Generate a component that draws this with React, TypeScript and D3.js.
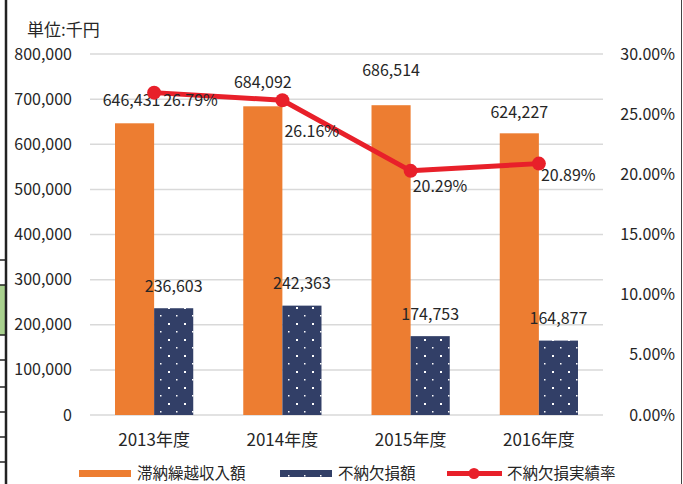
import * as d3 from "d3"
import { useEffect, useRef } from "react"

const years = ["2013年度", "2014年度", "2015年度", "2016年度"]
const arrears = [646431, 684092, 686514, 624227]
const losses = [236603, 242363, 174753, 164877]
const lossRate = [0.2679, 0.2616, 0.2029, 0.2089]
const leftTicks = [0, 100000, 200000, 300000, 400000, 500000, 600000, 700000, 800000]
const rightTicks = [0, 0.05, 0.1, 0.15, 0.2, 0.25, 0.3]
const seriesNames = ["滞納繰越収入額", "不納欠損額", "不納欠損実績率"]

// label nudges as in the source sheet
const arrearsLabelDx = [-3, 0, 0, 0]
const arrearsLabelDy = [-23, -24, -35, -21]
const rateLabelDx = [9, 2, 2, 2]
const rateLabelDy = [8, 31, 16, 12]

const ORANGE = "#ED7D31"
const NAVY = "#323F67"
const RED = "#E8202A"
const FONT = "'Noto Sans CJK JP', 'Noto Sans', sans-serif"

const App = () => {
  const ref = useRef<SVGSVGElement>(null)

  useEffect(() => {
    document.body.style.margin = "0"
    const width = 683
    const height = 484
    const svg = d3.select(ref.current)
    svg.selectAll("*").remove()
    svg.attr("width", width).attr("height", height)

    svg.append("rect").attr("width", width).attr("height", height).attr("fill", "#fff")

    // spreadsheet remnants around the chart
    const edge = svg.append("g")
    edge.append("rect").attr("x", 0).attr("y", 285).attr("width", 5).attr("height", 50).attr("fill", "#A9D18E")
    ;[260, 285, 335, 360, 387, 412, 437, 462].forEach((yy) =>
      edge.append("line").attr("x1", 0).attr("x2", 5).attr("y1", yy).attr("y2", yy).attr("stroke", "#222").attr("stroke-width", 1.5)
    )
    edge.append("line").attr("x1", 6).attr("x2", 6).attr("y1", 0).attr("y2", height).attr("stroke", "#222").attr("stroke-width", 2.5)
    edge.append("line").attr("x1", 681.5).attr("x2", 681.5).attr("y1", 0).attr("y2", height).attr("stroke", "#444").attr("stroke-width", 1)

    const defs = svg.append("defs")
    const pat = defs
      .append("pattern")
      .attr("id", "dots")
      .attr("patternUnits", "userSpaceOnUse")
      .attr("width", 16)
      .attr("height", 16)
    pat.append("rect").attr("width", 16).attr("height", 16).attr("fill", NAVY)
    pat.append("rect").attr("x", 8).attr("y", 3).attr("width", 2).attr("height", 2).attr("fill", "#fff")
    pat.append("rect").attr("x", 0).attr("y", 11).attr("width", 1.5).attr("height", 1.5).attr("fill", "#fff")

    const x = d3.scaleBand().domain(years).range([90, 603]).padding(0)
    const y = d3.scaleLinear().domain([0, 800000]).range([415, 54])
    const yr = d3.scaleLinear().domain([0, 0.3]).range([415, 54])
    const groupW = x.bandwidth() * 0.61
    const inner = d3.scaleBand().domain(["a", "b"]).range([0, groupW]).padding(0)
    const cx = (d: string) => (x(d) as number) + x.bandwidth() / 2

    // grid
    svg
      .append("g")
      .selectAll("line")
      .data(leftTicks)
      .join("line")
      .attr("x1", 90)
      .attr("x2", 603)
      .attr("y1", (d) => y(d))
      .attr("y2", (d) => y(d))
      .attr("stroke", "#D9D9D9")
      .attr("stroke-width", 1.5)

    const txt = (g: any) => g.attr("font-family", FONT).attr("fill", "#262626")

    // left axis
    svg
      .append("g")
      .call(txt)
      .selectAll("text")
      .data(leftTicks)
      .join("text")
      .attr("x", 72)
      .attr("y", (d) => y(d))
      .attr("dy", "0.35em")
      .attr("text-anchor", "end")
      .attr("font-size", 16)
      .text((d) => d3.format(",")(d))

    // right axis
    svg
      .append("g")
      .call(txt)
      .selectAll("text")
      .data(rightTicks)
      .join("text")
      .attr("x", 675)
      .attr("y", (d) => yr(d))
      .attr("dy", "0.35em")
      .attr("text-anchor", "end")
      .attr("font-size", 16)
      .text((d) => d3.format(".2%")(d))

    svg.append("text").call(txt).attr("x", 27).attr("y", 30).attr("dy", "0.35em").attr("font-size", 17).text("単位:千円")

    // categories
    svg
      .append("g")
      .call(txt)
      .selectAll("text")
      .data(years)
      .join("text")
      .attr("x", cx)
      .attr("y", 440)
      .attr("dy", "0.35em")
      .attr("text-anchor", "middle")
      .attr("font-size", 17)
      .text((d) => d)

    // bars
    const g0 = (d: string) => cx(d) - groupW / 2
    svg
      .append("g")
      .selectAll("rect")
      .data(years)
      .join("rect")
      .attr("x", (d) => g0(d) + (inner("a") as number))
      .attr("y", (d, i) => y(arrears[i]))
      .attr("width", inner.bandwidth())
      .attr("height", (d, i) => y(0) - y(arrears[i]))
      .attr("fill", ORANGE)
    svg
      .append("g")
      .selectAll("rect")
      .data(years)
      .join("rect")
      .attr("x", (d) => g0(d) + (inner("b") as number))
      .attr("y", (d, i) => y(losses[i]))
      .attr("width", inner.bandwidth())
      .attr("height", (d, i) => y(0) - y(losses[i]))
      .attr("fill", "url(#dots)")

    // bar labels sit under the line
    const labels = svg.append("g").call(txt).attr("font-size", 16)
    labels
      .selectAll("text.a")
      .data(arrears)
      .join("text")
      .attr("class", "a")
      .attr("x", (d, i) => g0(years[i]) + (inner("a") as number) + inner.bandwidth() / 2 + arrearsLabelDx[i])
      .attr("y", (d, i) => y(d) + arrearsLabelDy[i])
      .attr("dy", "0.35em")
      .attr("text-anchor", "middle")
      .text((d) => d3.format(",")(d))
    labels
      .selectAll("text.b")
      .data(losses)
      .join("text")
      .attr("class", "b")
      .attr("x", (d, i) => g0(years[i]) + (inner("b") as number) + inner.bandwidth() / 2)
      .attr("y", (d) => y(d) - 22)
      .attr("dy", "0.35em")
      .attr("text-anchor", "middle")
      .text((d) => d3.format(",")(d))

    // line
    const line = d3
      .line<number>()
      .x((d, i) => cx(years[i]))
      .y((d) => yr(d))
    svg
      .append("path")
      .datum(lossRate)
      .attr("d", line)
      .attr("fill", "none")
      .attr("stroke", RED)
      .attr("stroke-width", 5)
      .attr("stroke-linejoin", "round")
    svg
      .append("g")
      .selectAll("circle")
      .data(lossRate)
      .join("circle")
      .attr("cx", (d, i) => cx(years[i]))
      .attr("cy", (d) => yr(d))
      .attr("r", 7)
      .attr("fill", RED)

    svg
      .append("g")
      .call(txt)
      .attr("font-size", 16)
      .selectAll("text")
      .data(lossRate)
      .join("text")
      .attr("x", (d, i) => cx(years[i]) + rateLabelDx[i])
      .attr("y", (d, i) => yr(d) + rateLabelDy[i])
      .attr("dy", "0.35em")
      .text((d) => d3.format(".2%")(d))

    // legend
    const lg = svg.append("g").attr("font-family", FONT).attr("font-size", 15.5).attr("fill", "#262626")
    lg.append("rect").attr("x", 79).attr("y", 470).attr("width", 52).attr("height", 7).attr("fill", ORANGE)
    lg.append("text").attr("x", 137).attr("y", 474).attr("dy", "0.35em").text(seriesNames[0])
    lg.append("rect").attr("x", 280).attr("y", 470).attr("width", 52).attr("height", 7).attr("fill", "url(#dots)")
    lg.append("text").attr("x", 338).attr("y", 474).attr("dy", "0.35em").text(seriesNames[1])
    lg.append("line").attr("x1", 447).attr("x2", 502).attr("y1", 473.5).attr("y2", 473.5).attr("stroke", RED).attr("stroke-width", 5)
    lg.append("circle").attr("cx", 474).attr("cy", 473.5).attr("r", 5.5).attr("fill", RED)
    lg.append("text").attr("x", 507).attr("y", 474).attr("dy", "0.35em").text(seriesNames[2])
  }, [])

  return <svg ref={ref} style={{ display: "block" }} />
}

export default App
